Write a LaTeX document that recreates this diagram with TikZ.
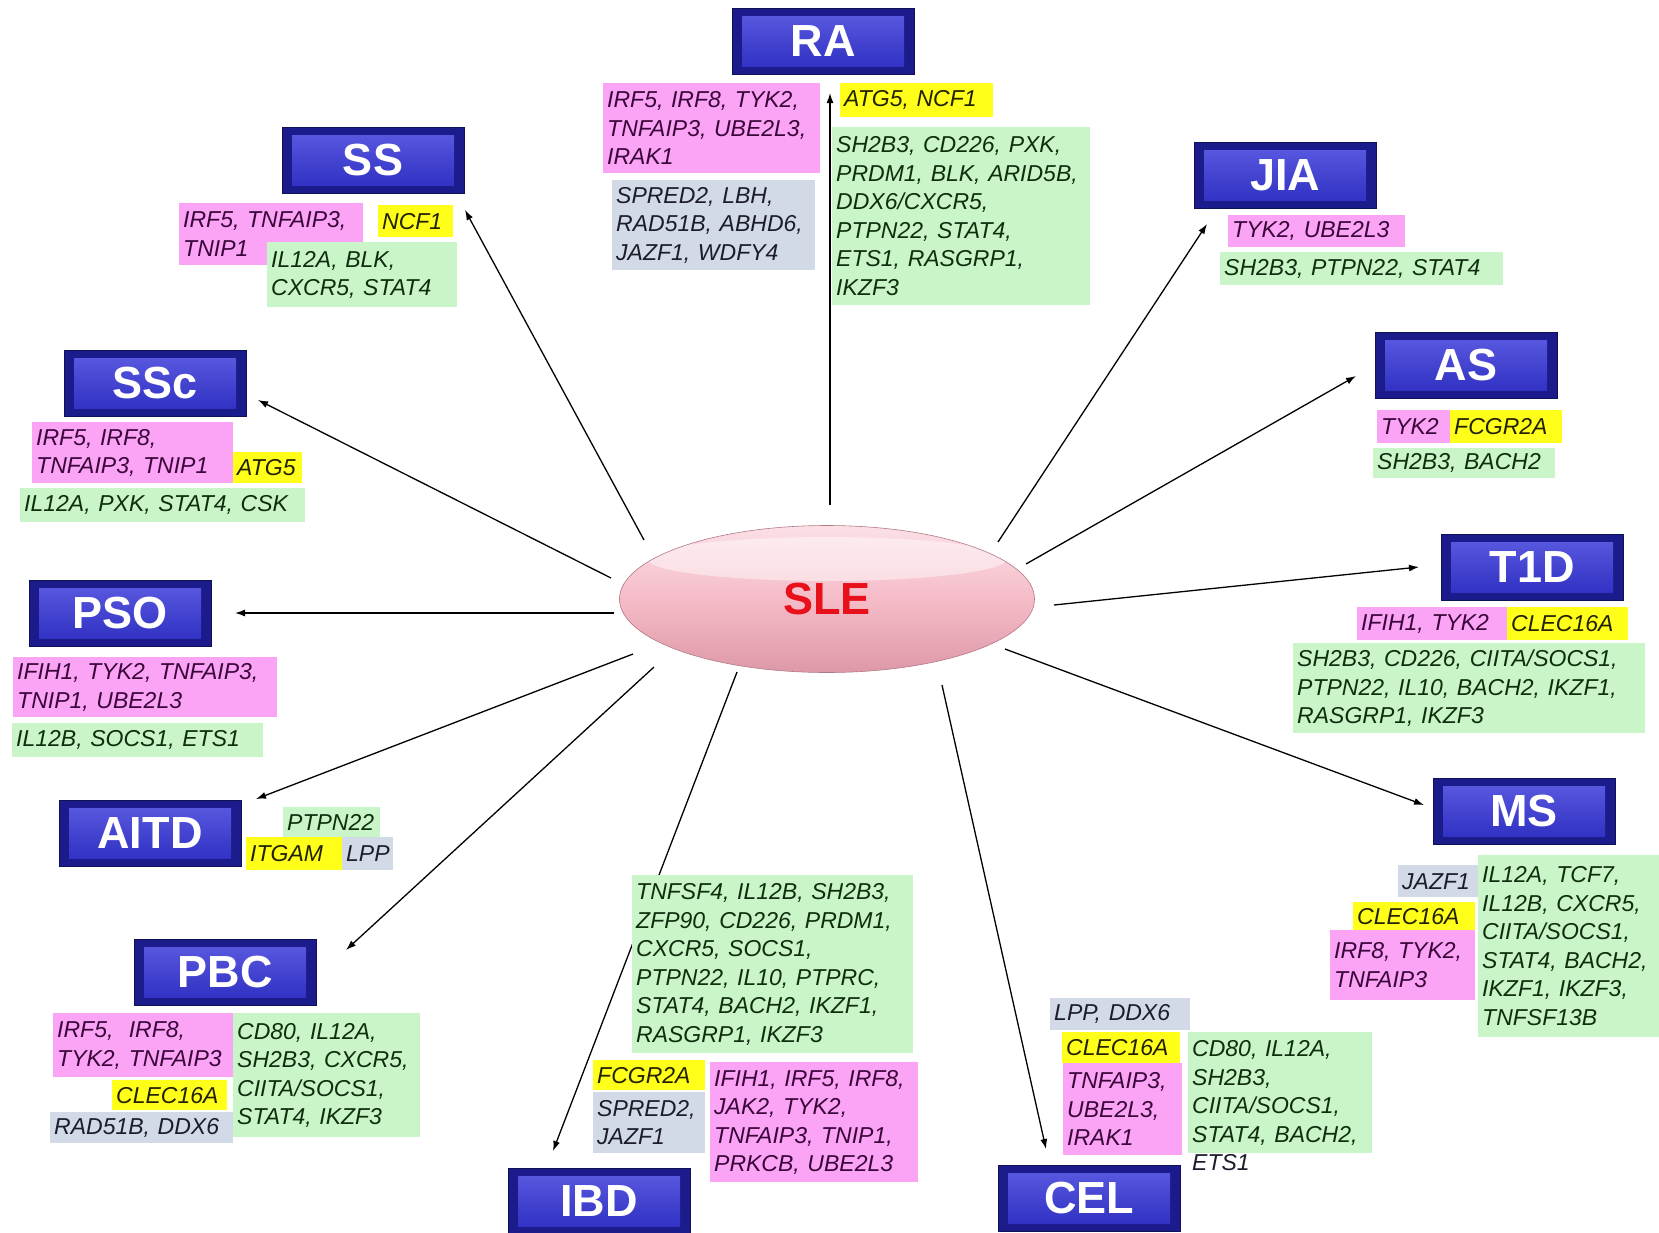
\documentclass[tikz,border=0pt]{standalone}
\usepackage{fontspec}
\setmainfont{Liberation Sans}
\usepackage{xcolor}
\usetikzlibrary{arrows.meta,shapes.geometric}

\definecolor{genepink}{HTML}{FBA3F5}
\definecolor{genegreen}{HTML}{C9F5C9}
\definecolor{genegrey}{HTML}{D3DAE7}
\definecolor{geneyellow}{HTML}{FFFF1A}
\definecolor{pinkink}{HTML}{3A063A}
\definecolor{greenink}{HTML}{0E2E0E}
\definecolor{greyink}{HTML}{1C1C2A}
\definecolor{yellowink}{HTML}{222200}
\definecolor{boxedge}{HTML}{1B1B8C}
\definecolor{boxface}{HTML}{2C2CC0}
\definecolor{boxshine}{HTML}{5C5CE2}
\definecolor{slehi}{HTML}{FBE0E6}
\definecolor{slemid}{HTML}{F5BCC8}
\definecolor{slelo}{HTML}{DE98A8}
\definecolor{slered}{HTML}{E8101A}

\begin{document}
\begin{tikzpicture}[x=1pt,y=-1pt,
  every node/.style={inner sep=0pt},
  gene/.style={anchor=north west,inner xsep=4pt,align=left,
    font=\fontsize{23pt}{28.5pt}\selectfont\itshape},
  pinkgene/.style={gene,fill=genepink,text=pinkink},
  greengene/.style={gene,fill=genegreen,text=greenink},
  greygene/.style={gene,fill=genegrey,text=greyink},
  yellowgene/.style={gene,fill=geneyellow,text=yellowink},
  disease/.style={draw=boxedge!60!black,line width=0.8pt,fill=boxedge,
    minimum width=182pt,minimum height=66pt,text=white,
    font=\fontsize{45pt}{50pt}\selectfont\bfseries,
    path picture={
      \shade[top color=boxshine,bottom color=boxface]
        ([shift={(10pt,-8pt)}]path picture bounding box.north west) rectangle
        ([shift={(-10pt,8pt)}]path picture bounding box.south east);}},
  arr/.style={-{Latex[length=10pt,width=7pt]},line width=1.3pt}]
  \fill[white] (0,0) rectangle (1659,1232);
  \useasboundingbox (0,0) rectangle (1659,1232);

  % centre
  \node[ellipse,minimum width=415pt,minimum height=147pt,draw=slelo!80!black,
    line width=0.6pt,top color=slehi,bottom color=slelo,middle color=slemid,
    text=slered,font=\fontsize{45pt}{50pt}\selectfont\bfseries,
    path picture={
      \fill[white,opacity=0.45] ([yshift=40pt]path picture bounding box.center)
        ellipse [x radius=180pt,y radius=22pt];}] (sle) at (827,599) {SLE};

  % disease boxes
  \foreach \n/\t/\x/\y in {ra/RA/823/41, ss/SS/373/160, ssc/SSc/155/383,
      pso/PSO/120/613, aitd/AITD/150/833, pbc/PBC/225/972, ibd/IBD/599/1201,
      cel/CEL/1089/1198, ms/MS/1524/811, t1d/T1D/1532/567, as/AS/1466/365,
      jia/JIA/1285/175}
    \node[disease] (\n) at (\x,\y) {\t};

  % arrows
  \foreach \d/\sx/\sy/\ex/\ey in {ra/830/505/830/93, ss/644/540/465/210,
      ssc/611/578/258/400, pso/614/613/235/613, aitd/633/654/256/799,
      pbc/654/667/346/950, ibd/737/672/553/1151, cel/942/685/1046/1149,
      ms/1005/649/1424/805, t1d/1054/605/1419/567, as/1026/564/1356/376,
      jia/998/542/1207/224}{
    \coordinate (sle-\d) at (\sx,\sy);
    \coordinate (\d-in) at (\ex,\ey);
    \draw[arr] (sle-\d) -- (\d-in);
  }

  % RA
  \node[pinkgene,text width=209pt,minimum height=90pt] (ra-pink) at (603,83)
    {IRF5, IRF8, TYK2,\\TNFAIP3, UBE2L3,\\IRAK1};
  \node[greygene,text width=195pt,minimum height=90pt] (ra-grey) at (612,180)
    {SPRED2, LBH,\\RAD51B, ABHD6,\\JAZF1, WDFY4};
  \node[yellowgene,text width=145pt,minimum height=34pt] (ra-yellow) at (840,83)
    {ATG5, NCF1};
  \node[greengene,text width=250pt,minimum height=178pt] (ra-green) at (832,127)
    {SH2B3, CD226, PXK,\\PRDM1, BLK, ARID5B,\\DDX6/CXCR5,\\PTPN22, STAT4,\\ETS1, RASGRP1,\\IKZF3};

  % SS
  \node[pinkgene,text width=176pt,minimum height=62pt] (ss-pink) at (179,203)
    {IRF5, TNFAIP3,\\TNIP1};
  \node[yellowgene,text width=67pt,minimum height=32pt] (ss-yellow) at (378,205)
    {NCF1};
  \node[greengene,text width=182pt,minimum height=65pt] (ss-green) at (267,242)
    {IL12A, BLK,\\CXCR5, STAT4};

  % SSc
  \node[pinkgene,text width=193pt,minimum height=61pt] (ssc-pink) at (32,422)
    {IRF5, IRF8,\\TNFAIP3, TNIP1};
  \node[yellowgene,text width=61pt,minimum height=31pt] (ssc-yellow) at (233,452)
    {ATG5};
  \node[greengene,text width=277pt,minimum height=34pt] (ssc-green) at (20,488)
    {IL12A, PXK, STAT4, CSK};

  % PSO
  \node[pinkgene,text width=256pt,minimum height=60pt] (pso-pink) at (13,657)
    {IFIH1, TYK2, TNFAIP3,\\TNIP1, UBE2L3};
  \node[greengene,text width=243pt,minimum height=34pt] (pso-green) at (12,723)
    {IL12B, SOCS1, ETS1};

  % AITD
  \node[greengene,text width=89pt,minimum height=30pt] (aitd-green) at (283,807)
    {PTPN22};
  \node[yellowgene,text width=88pt,minimum height=33pt] (aitd-yellow) at (246,837)
    {ITGAM};
  \node[greygene,text width=43pt,minimum height=33pt] (aitd-grey) at (342,837)
    {LPP};

  % PBC
  \node[pinkgene,text width=172pt,minimum height=64pt] (pbc-pink) at (53,1013)
    {IRF5,~ IRF8,\\TYK2, TNFAIP3};
  \node[greengene,text width=179pt,minimum height=124pt] (pbc-green) at (233,1013)
    {CD80, IL12A,\\SH2B3, CXCR5,\\CIITA/SOCS1,\\STAT4, IKZF3};
  \node[yellowgene,text width=107pt,minimum height=30pt] (pbc-yellow) at (112,1080)
    {CLEC16A};
  \node[greygene,text width=175pt,minimum height=31pt] (pbc-grey) at (50,1112)
    {RAD51B, DDX6};

  % IBD
  \node[greengene,text width=273pt,minimum height=178pt] (ibd-green) at (632,875)
    {TNFSF4, IL12B, SH2B3,\\ZFP90, CD226, PRDM1,\\CXCR5, SOCS1,\\PTPN22, IL10, PTPRC,\\STAT4, BACH2, IKZF1,\\RASGRP1, IKZF3};
  \node[yellowgene,text width=104pt,minimum height=30pt] (ibd-yellow) at (593,1060)
    {FCGR2A};
  \node[greygene,text width=104pt,minimum height=61pt] (ibd-grey) at (593,1092)
    {SPRED2,\\JAZF1};
  \node[pinkgene,text width=200pt,minimum height=120pt] (ibd-pink) at (710,1062)
    {IFIH1, IRF5, IRF8,\\JAK2, TYK2,\\TNFAIP3, TNIP1,\\PRKCB, UBE2L3};

  % CEL
  \node[greygene,text width=132pt,minimum height=32pt] (cel-grey) at (1050,998)
    {LPP, DDX6};
  \node[yellowgene,text width=110pt,minimum height=31pt] (cel-yellow) at (1062,1032)
    {CLEC16A};
  \node[pinkgene,text width=111pt,minimum height=92pt] (cel-pink) at (1063,1063)
    {TNFAIP3,\\UBE2L3,\\IRAK1};
  \node[greengene,text width=176pt,minimum height=121pt] (cel-green) at (1188,1032)
    {CD80, IL12A,\\SH2B3,\\CIITA/SOCS1,\\STAT4, BACH2,};
  \node[gene,anchor=west,text=greyink] (cel-extra) at (1188,1163) {ETS1};

  % MS
  \node[greygene,text width=72pt,minimum height=32pt] (ms-grey) at (1398,865)
    {JAZF1};
  \node[yellowgene,text width=114pt,minimum height=28pt] (ms-yellow) at (1353,902)
    {CLEC16A};
  \node[pinkgene,text width=137pt,minimum height=70pt] (ms-pink) at (1330,930)
    {IRF8, TYK2,\\TNFAIP3};
  \node[greengene,text width=174pt,minimum height=182pt] (ms-green) at (1478,855)
    {IL12A, TCF7,\\IL12B, CXCR5,\\CIITA/SOCS1,\\STAT4, BACH2,\\IKZF1, IKZF3,\\TNFSF13B};

  % T1D
  \node[pinkgene,text width=142pt,minimum height=33pt] (t1d-pink) at (1357,607)
    {IFIH1, TYK2};
  \node[yellowgene,text width=113pt,minimum height=33pt] (t1d-yellow) at (1507,607)
    {CLEC16A};
  \node[greengene,text width=344pt,minimum height=90pt] (t1d-green) at (1293,643)
    {SH2B3, CD226, CIITA/SOCS1,\\PTPN22, IL10, BACH2, IKZF1,\\RASGRP1, IKZF3};

  % AS
  \node[pinkgene,text width=65pt,minimum height=33pt] (as-pink) at (1377,410)
    {TYK2};
  \node[yellowgene,text width=104pt,minimum height=33pt] (as-yellow) at (1450,410)
    {FCGR2A};
  \node[greengene,text width=174pt,minimum height=30pt] (as-green) at (1373,448)
    {SH2B3, BACH2};

  % JIA
  \node[pinkgene,text width=169pt,minimum height=32pt] (jia-pink) at (1228,215)
    {TYK2, UBE2L3};
  \node[greengene,text width=275pt,minimum height=33pt] (jia-green) at (1220,252)
    {SH2B3, PTPN22, STAT4};
\end{tikzpicture}
\end{document}
